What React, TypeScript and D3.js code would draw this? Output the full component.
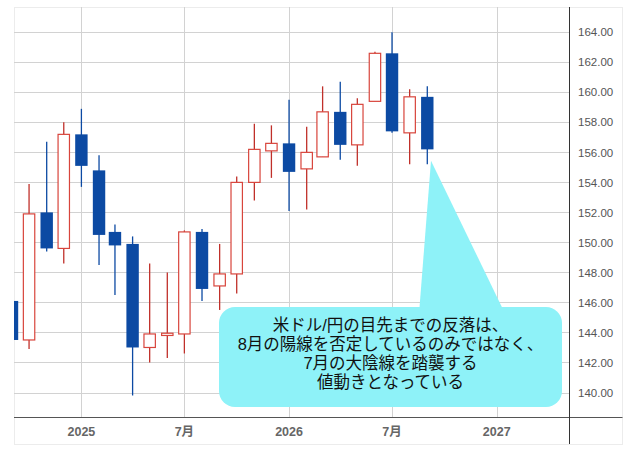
import React from "react";
import * as d3 from "d3";

const months = [
  "2024-09", "2024-10", "2024-11", "2024-12",
  "2025-01", "2025-02", "2025-03", "2025-04", "2025-05", "2025-06",
  "2025-07", "2025-08", "2025-09", "2025-10", "2025-11", "2025-12",
  "2026-01", "2026-02", "2026-03", "2026-04", "2026-05", "2026-06",
  "2026-07", "2026-08", "2026-09",
];
const opens = [
  146.1, 143.5, 152.0, 149.6,
  157.2, 154.8, 150.7, 149.9, 143.0, 143.8,
  143.9, 150.7, 147.1, 147.9, 154.0, 156.1,
  156.6, 154.9, 155.7, 158.7, 156.5, 159.4,
  162.6, 157.3, 159.7,
];
const highs = [
  146.6, 153.9, 156.7, 158.0,
  158.9, 155.8, 151.2, 150.4, 148.6, 148.0,
  150.8, 150.9, 149.9, 154.4, 157.9, 157.8,
  159.5, 157.7, 160.4, 160.7, 159.6, 162.7,
  164.0, 160.2, 160.4,
];
const lows = [
  143.2, 142.9, 149.4, 148.6,
  153.7, 148.5, 146.5, 139.8, 142.0, 142.3,
  142.6, 146.1, 145.5, 146.6, 152.8, 154.3,
  152.1, 152.2, 155.7, 155.5, 155.1, 159.4,
  157.3, 155.2, 155.2,
];
const closes = [
  143.5, 151.9, 149.6, 157.2,
  155.1, 150.5, 149.8, 143.0, 143.9, 143.95,
  150.7, 146.9, 147.9, 154.0, 156.2, 156.6,
  154.7, 156.0, 158.7, 156.5, 159.2, 162.6,
  157.4, 159.7, 156.2,
];

const yTicks = [140, 142, 144, 146, 148, 150, 152, 154, 156, 158, 160, 162, 164];
const xTickDates = ["2025-01", "2025-07", "2026-01", "2026-07", "2027-01"];
const xTickLabels = ["2025", "7月", "2026", "7月", "2027"];

const calloutLines = [
  "米ドル/円の目先までの反落は、",
  "8月の陽線を否定しているのみではなく、",
  "7月の大陰線を踏襲する",
  "値動きとなっている",
];

const parseMonth = (s: string) => {
  const [y, m] = s.split("-").map(Number);
  return new Date(y, m - 1, 1);
};

const UP_STROKE = "#d8453c";
const UP_WICK = "#c0302a";
const DOWN = "#0c4aa3";

export default function App() {
  const W = 640, H = 450;
  const plotL = 14, plotR = 569, plotT = 7, plotB = 417;

  const x = d3.scaleTime()
    .domain([parseMonth("2025-01"), parseMonth("2027-01")])
    .range([81.4, 496.7]);
  const y = d3.scaleLinear().domain([140, 164]).range([392.5, 32.3]);

  const bodyW = 12.4;

  const candles = months.map((m, i) => ({
    d: parseMonth(m), o: opens[i], h: highs[i], l: lows[i], c: closes[i],
  }));

  return (
    <svg width={W} height={H} style={{ position: "absolute", left: 0, top: 0, background: "#fff" }}>
      <defs>
        <clipPath id="plotClip">
          <rect x={plotL} y={plotT} width={plotR - plotL} height={plotB - plotT} />
        </clipPath>
      </defs>
      <rect x={14.5} y={7.5} width={608} height={437} fill="#fff" stroke="#ececec" />
      {yTicks.map((t) => (
        <line key={"hy" + t} x1={plotL} x2={plotR} y1={Math.round(y(t)) + 0.5} y2={Math.round(y(t)) + 0.5}
          stroke="#d2d2d2" strokeWidth={1} />
      ))}
      {xTickDates.map((t) => (
        <line key={"vx" + t} x1={Math.round(x(parseMonth(t))) + 0.5} x2={Math.round(x(parseMonth(t))) + 0.5}
          y1={plotT} y2={plotB} stroke="#d2d2d2" strokeWidth={1} />
      ))}
      <g clipPath="url(#plotClip)">
        {candles.map((c, i) => {
          const cx = x(c.d);
          const up = c.c >= c.o;
          const top = y(Math.max(c.o, c.c));
          const bot = y(Math.min(c.o, c.c));
          return (
            <g key={i}>
              <line x1={cx} x2={cx} y1={y(c.h)} y2={y(c.l)} stroke={up ? UP_WICK : DOWN} strokeWidth={1.3} />
              {up ? (
                <rect x={cx - bodyW / 2 + 0.5} y={top} width={bodyW - 1} height={Math.max(1, bot - top)}
                  fill="#fff" stroke={UP_STROKE} strokeWidth={1.2} />
              ) : (
                <rect x={cx - bodyW / 2} y={top} width={bodyW} height={Math.max(1, bot - top)} fill={DOWN} />
              )}
            </g>
          );
        })}
      </g>
      <line x1={plotL} x2={622.5} y1={plotB + 0.5} y2={plotB + 0.5} stroke="#555" strokeWidth={1} />
      <line x1={plotR + 0.5} x2={plotR + 0.5} y1={plotT} y2={444} stroke="#333" strokeWidth={1} />
      {yTicks.map((t) => (
        <text key={"yl" + t} x={578} y={y(t)} dy="0.36em" fontFamily="'Liberation Sans', Arial, sans-serif"
          fontSize={11.5} fill="#555">{t.toFixed(2)}</text>
      ))}
      {xTickDates.map((t, i) => (
        <text key={"xl" + t} x={x(parseMonth(t))} y={436} textAnchor="middle"
          fontFamily="'Liberation Sans', 'Noto Sans CJK JP', sans-serif" fontWeight="bold"
          fontSize={12.5} fill="#666">{xTickLabels[i]}</text>
      ))}
      <g>
        <path d="M431,160.7 L419.3,310 L503.3,310 Z" fill="#8ef2f8" />
        <rect x={219} y={307} width={343} height={100} rx={16} ry={16} fill="#8ef2f8" />
        {calloutLines.map((s, i) => (
          <text key={i} x={390.5} y={325 + i * 19} dy="0.36em" textAnchor="middle"
            fontFamily="'Liberation Sans', 'Noto Sans CJK JP', sans-serif" fontSize={16.5} fill="#111">{s}</text>
        ))}
      </g>
    </svg>
  );
}
